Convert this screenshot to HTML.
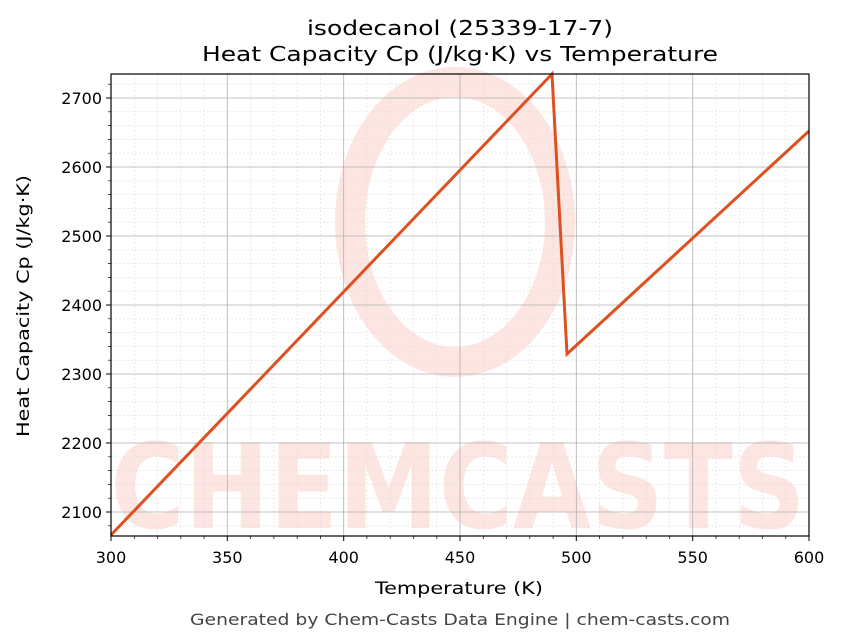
<!DOCTYPE html>
<html><head><style>body{margin:0;background:#fff}svg{display:block}text{font-family:"DejaVu Sans","Liberation Sans",sans-serif}</style></head>
<body>
<svg width="843" height="644" xmlns="http://www.w3.org/2000/svg">
<rect width="843" height="644" fill="#fff"/>
<g opacity="0.13" fill="none" stroke="#f04020">
<ellipse cx="455" cy="222" rx="105" ry="140" stroke-width="30"/>
</g>
<text x="458" y="528" font-size="118" font-weight="bold" fill="#f04020" opacity="0.13" text-anchor="middle" textLength="695" lengthAdjust="spacingAndGlyphs">CHEMCASTS</text>
<g stroke="#ddd" stroke-width="0.6" stroke-dasharray="2,2">
<path d="M134.3 74V536M157.5 74V536M180.8 74V536M204.1 74V536M250.6 74V536M273.9 74V536M297.2 74V536M320.4 74V536M366.9 74V536M390.2 74V536M413.5 74V536M436.8 74V536M483.3 74V536M506.6 74V536M529.8 74V536M553.1 74V536M599.6 74V536M622.9 74V536M646.2 74V536M669.4 74V536M716 74V536M739.2 74V536M762.5 74V536M785.8 74V536"/>
<path d="M111 84.2H809M111 111.8H809M111 125.6H809M111 139.4H809M111 153.2H809M111 180.8H809M111 194.6H809M111 208.4H809M111 222.2H809M111 249.8H809M111 263.6H809M111 277.4H809M111 291.2H809M111 318.8H809M111 332.6H809M111 346.4H809M111 360.2H809M111 387.8H809M111 401.6H809M111 415.4H809M111 429.2H809M111 456.8H809M111 470.6H809M111 484.4H809M111 498.2H809M111 525.8H809"/>
</g>
<g stroke="#b0b0b0" stroke-width="0.8">
<path d="M227.3 74V536M343.7 74V536M460 74V536M576.3 74V536M692.7 74V536"/>
<path d="M111 98H809M111 167H809M111 236H809M111 305H809M111 374H809M111 443H809M111 512H809"/>
</g>
<polyline points="111,535 552,74 567,354 809,131" fill="none" stroke="#dd5020" stroke-width="3" stroke-linejoin="miter"/>
<rect x="111" y="74" width="698" height="462" fill="none" stroke="#000" stroke-width="1.2"/>
<g stroke="#000" stroke-width="1">
<path d="M111 536v5M227.3 536v5M343.7 536v5M460 536v5M576.3 536v5M692.7 536v5M809 536v5"/>
<path d="M111 98h-5M111 167h-5M111 236h-5M111 305h-5M111 374h-5M111 443h-5M111 512h-5"/>
</g>
<g stroke="#000" stroke-width="0.7">
<path d="M134.3 536v3M157.5 536v3M180.8 536v3M204.1 536v3M250.6 536v3M273.9 536v3M297.2 536v3M320.4 536v3M366.9 536v3M390.2 536v3M413.5 536v3M436.8 536v3M483.3 536v3M506.6 536v3M529.8 536v3M553.1 536v3M599.6 536v3M622.9 536v3M646.2 536v3M669.4 536v3M716 536v3M739.2 536v3M762.5 536v3M785.8 536v3"/>
<path d="M111 84.2h-3M111 111.8h-3M111 125.6h-3M111 139.4h-3M111 153.2h-3M111 180.8h-3M111 194.6h-3M111 208.4h-3M111 222.2h-3M111 249.8h-3M111 263.6h-3M111 277.4h-3M111 291.2h-3M111 318.8h-3M111 332.6h-3M111 346.4h-3M111 360.2h-3M111 387.8h-3M111 401.6h-3M111 415.4h-3M111 429.2h-3M111 456.8h-3M111 470.6h-3M111 484.4h-3M111 498.2h-3M111 525.8h-3"/>
</g>
<g font-size="16" fill="#000" text-anchor="middle">
<text x="111" y="563">300</text><text x="227.3" y="563">350</text><text x="343.7" y="563">400</text><text x="460" y="563">450</text><text x="576.3" y="563">500</text><text x="692.7" y="563">550</text><text x="809" y="563">600</text>
</g>
<g font-size="16" fill="#000" text-anchor="end">
<text x="102" y="104">2700</text><text x="102" y="173">2600</text><text x="102" y="242">2500</text><text x="102" y="311">2400</text><text x="102" y="380">2300</text><text x="102" y="449">2200</text><text x="102" y="518">2100</text>
</g>
<text x="459" y="594" font-size="17" text-anchor="middle" textLength="168" lengthAdjust="spacingAndGlyphs">Temperature (K)</text>
<text transform="translate(29,306) rotate(-90)" font-size="17" text-anchor="middle" textLength="262" lengthAdjust="spacingAndGlyphs">Heat Capacity Cp (J/kg·K)</text>
<text x="460" y="35" font-size="20" text-anchor="middle" textLength="306" lengthAdjust="spacingAndGlyphs">isodecanol (25339-17-7)</text>
<text x="460" y="61" font-size="20" text-anchor="middle" textLength="516" lengthAdjust="spacingAndGlyphs">Heat Capacity Cp (J/kg·K) vs Temperature</text>
<text x="460" y="625" font-size="16" fill="#444" text-anchor="middle" textLength="540" lengthAdjust="spacingAndGlyphs">Generated by Chem-Casts Data Engine | chem-casts.com</text>
</svg>
</body></html>
